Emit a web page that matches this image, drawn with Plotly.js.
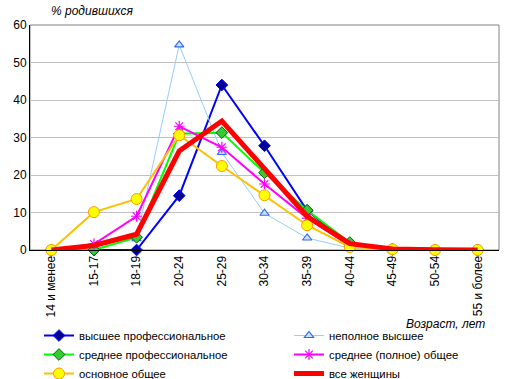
<!DOCTYPE html>
<html><head><meta charset="utf-8">
<script src="https://cdn.plot.ly/plotly-3.0.1.min.js"></script>
<style>body{margin:0;padding:0;background:#fff}#chart{width:515px;height:379px}</style>
</head><body><div id="chart"></div>
<script>
const categories = ["14 и менее","15-17","18-19","20-24","25-29","30-34","35-39","40-44","45-49","50-54","55 и более"];
const seriesNames = ["высшее профессиональное","неполное высшее","среднее профессиональное","среднее (полное) общее","основное общее","все женщины"];
const higherProf = [0, 0, 0, 14.5, 44, 27.8, 10.5, 1.5, 0.2, 0, 0];
const incompleteHigher = [0, 0.3, 3, 54.7, 26, 9.8, 3.2, 0.5, 0, 0, 0];
const secondaryProf = [0, 0, 3.4, 31, 31.3, 20.6, 10.6, 2, 0.2, 0, 0];
const secondaryGeneral = [0, 1.6, 9, 33, 27.4, 17.6, 8.5, 1.2, 0.2, 0, 0];
const basicGeneral = [0, 10.1, 13.6, 30.6, 22.4, 14.6, 6.6, 0.8, 0.2, 0, 0];
const allWomen = [0, 1.2, 4.2, 26.4, 34.4, 21.5, 9, 1.7, 0.3, 0.1, 0];
const yTicks = [0,10,20,30,40,50,60];

const traces = [
  {y: higherProf, legend:'legend', line:{color:'#0000FF', width:2}, marker:{symbol:'diamond', size:9, color:'#000099', line:{color:'#0000FF', width:1}}},
  {y: incompleteHigher, legend:'legend2', line:{color:'#99CCFF', width:1}, marker:{symbol:'triangle-up', size:8, color:'#CCE5FF', line:{color:'#3366FF', width:1.2}}},
  {y: secondaryProf, legend:'legend', line:{color:'#00FF00', width:2}, marker:{symbol:'diamond', size:9, color:'#33CC33', line:{color:'#006600', width:1}}},
  {y: secondaryGeneral, legend:'legend2', line:{color:'#FF00FF', width:2}, marker:{symbol:'asterisk-open', size:9, color:'#FF00FF', line:{color:'#FF00FF', width:1.2}}},
  {y: basicGeneral, legend:'legend', line:{color:'#FFC000', width:2}, marker:{symbol:'circle', size:11, color:'#FFFF00', line:{color:'#FF9900', width:1}}},
  {y: allWomen, legend:'legend2', line:{color:'#FF0000', width:5}, mode:'lines'}
].map((t,i)=>Object.assign({x: categories, name: seriesNames[i], type:'scatter', mode:'lines+markers', cliponaxis:false}, t));

const FONT = 'Liberation Sans, Arial, sans-serif';
const legendBase = {orientation:'v', xref:'container', yref:'container', y:1-321/379, yanchor:'top', xanchor:'left',
  font:{size:11.3, family:FONT}, tracegroupgap:0, itemwidth:30, bgcolor:'rgba(0,0,0,0)', traceorder:'normal'};

const layout = {
  width:515, height:379,
  margin:{l:30, r:16, t:25, b:129, autoexpand:false},
  paper_bgcolor:'#fff', plot_bgcolor:'#fff',
  font:{family:FONT, size:12, color:'#000'},
  showlegend:true,
  legend:Object.assign({}, legendBase, {x:39/515}),
  legend2:Object.assign({}, legendBase, {x:289/515}),
  xaxis:{type:'category', range:[-0.5,10.5], tickangle:-90, showgrid:false, showline:true, linecolor:'#000', linewidth:1,
         ticks:'', tickfont:{size:12}, zeroline:false, fixedrange:true, automargin:false},
  yaxis:{range:[0,60], tickvals:yTicks, ticktext:yTicks.map(String), showgrid:true, gridcolor:'#C0C0C0', gridwidth:1,
         showline:true, linecolor:'#000', linewidth:1, ticks:'', tickfont:{size:12}, zeroline:false, fixedrange:true, automargin:false},
  shapes:[{type:'rect', xref:'paper', yref:'paper', x0:0, x1:1, y0:0, y1:1, line:{color:'#808080', width:1}, layer:'below'}],
  annotations:[
    {text:'% родившихся', xref:'paper', yref:'paper', x:0.04, y:1.02, xanchor:'left', yanchor:'bottom', showarrow:false,
     font:{size:12, style:'italic'}},
    {text:'Возраст, лет', xref:'paper', yref:'paper', x:0.975, y:(250-324)/225, xanchor:'right', yanchor:'middle', showarrow:false,
     font:{size:12, style:'italic'}}
  ]
};
Plotly.newPlot('chart', traces, layout, {displayModeBar:false, staticPlot:true});
</script></body></html>
